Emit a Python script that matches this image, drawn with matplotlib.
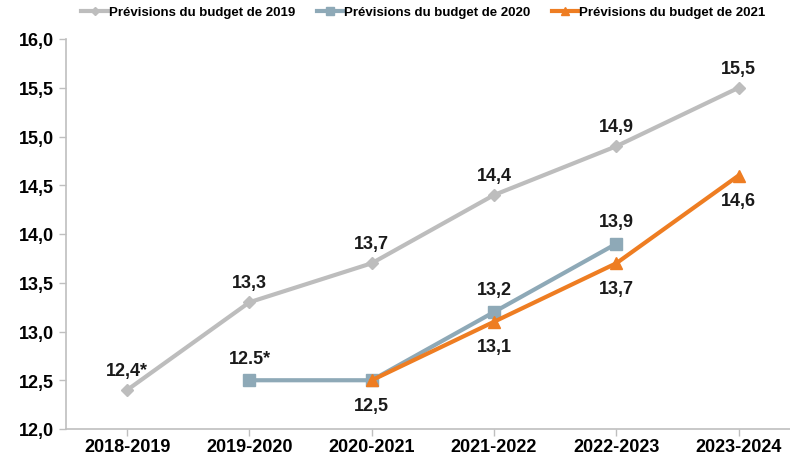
import matplotlib.pyplot as plt

plt.rcParams['font.family'] = ['Liberation Sans', 'DejaVu Sans']

years = ["2018-2019", "2019-2020", "2020-2021", "2021-2022", "2022-2023", "2023-2024"]
b2019 = [12.4, 13.3, 13.7, 14.4, 14.9, 15.5]
b2019_lbl = ["12,4*", "13,3", "13,7", "14,4", "14,9", "15,5"]
b2020_x = [1, 2, 3, 4]
b2020 = [12.5, 12.5, 13.2, 13.9]
b2020_lbl = ["12.5*", "", "13,2", "13,9"]
b2021_x = [2, 3, 4, 5]
b2021 = [12.5, 13.1, 13.7, 14.6]
b2021_lbl = ["12,5", "13,1", "13,7", "14,6"]

c19 = "#BDBDBD"
c20 = "#8EA9B7"
c21 = "#EE7D22"

fig = plt.figure(figsize=(7.9, 4.6), dpi=100)
ax = fig.add_axes([66 / 790, 30 / 460, 724 / 790, 390 / 460])

ax.plot(range(6), b2019, color=c19, lw=3, marker="D", ms=6, label="Prévisions du budget de 2019")
ax.plot(b2020_x, b2020, color=c20, lw=3, marker="s", ms=8, label="Prévisions du budget de 2020")
ax.plot(b2021_x, b2021, color=c21, lw=3, marker="^", ms=8, label="Prévisions du budget de 2021")

for x, y, t in zip(range(6), b2019, b2019_lbl):
    ax.annotate(t, (x, y), xytext=(0, 14), textcoords="offset points", ha="center",
                va="center", fontsize=13, fontweight="bold", color="#1a1a1a")
for x, y, t in zip(b2020_x, b2020, b2020_lbl):
    ax.annotate(t, (x, y), xytext=(0, 16), textcoords="offset points", ha="center",
                va="center", fontsize=13, fontweight="bold", color="#1a1a1a")
for x, y, t in zip(b2021_x, b2021, b2021_lbl):
    ax.annotate(t, (x, y), xytext=(0, -18), textcoords="offset points", ha="center",
                va="center", fontsize=13, fontweight="bold", color="#1a1a1a")

ax.set_xlim(-0.5, 5.42)
ax.set_ylim(12.0, 16.0)
ax.set_yticks([12.0, 12.5, 13.0, 13.5, 14.0, 14.5, 15.0, 15.5, 16.0])
ax.set_yticklabels([f"{v:.1f}".replace(".", ",") for v in ax.get_yticks()])
ax.set_xticks(range(6))
ax.set_xticklabels(years)
ax.tick_params(axis="both", labelsize=13, colors="#BFBFBF", labelcolor="#000000", length=5, width=1)
for lab in ax.get_xticklabels() + ax.get_yticklabels():
    lab.set_fontweight("bold")
ax.tick_params(axis="x", pad=1.5)
for s in ["top", "right"]:
    ax.spines[s].set_visible(False)
for s in ["left", "bottom"]:
    ax.spines[s].set_color("#BFBFBF")
    ax.spines[s].set_linewidth(1.2)

leg = ax.legend(loc="upper left", bbox_to_anchor=(0.005, 1.115), ncol=3, frameon=False,
                prop={"weight": "bold", "size": 9.5}, handlelength=2.0, columnspacing=1.6,
                handletextpad=0.1, markerscale=0.7)

fig.savefig("out.png", dpi=100)
